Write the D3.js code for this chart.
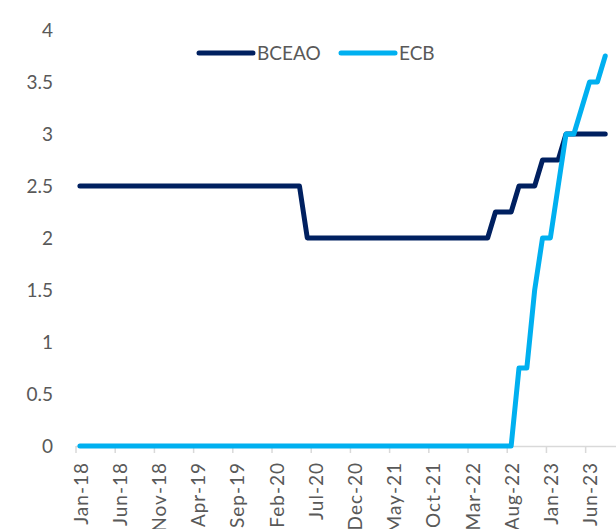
<!DOCTYPE html>
<html>
<head>
<meta charset="utf-8">
<script src="https://cdn.jsdelivr.net/npm/d3@7"></script>
<style>
  body { margin: 0; background: #fff; }
  svg { display: block; font-family: Lato, "Open Sans", sans-serif; }
  .axis text { fill: #595959; font-size: 19px; }
  .xlabel { letter-spacing: 1px; }
</style>
</head>
<body>
<svg id="chart"></svg>
<script>
const width = 616;
const height = 529;

// monthly categories, Jan-18 .. Sep-23 (the last one has no data)
const months = d3.timeMonth.range(new Date(2018, 0, 1), new Date(2023, 9, 1));
const fmt = d3.timeFormat("%b-%y");

const tickLabels = ["Jan-18", "Jun-18", "Nov-18", "Apr-19", "Sep-19", "Feb-20", "Jul-20",
                    "Dec-20", "May-21", "Oct-21", "Mar-22", "Aug-22", "Jan-23", "Jun-23"];

const yTicks = [0, 0.5, 1, 1.5, 2, 2.5, 3, 3.5, 4];

// policy rates, Jan-18 .. Aug-23
const bceao = [
  2.5, 2.5, 2.5, 2.5, 2.5, 2.5, 2.5, 2.5, 2.5, 2.5, 2.5, 2.5,   // 2018
  2.5, 2.5, 2.5, 2.5, 2.5, 2.5, 2.5, 2.5, 2.5, 2.5, 2.5, 2.5,   // 2019
  2.5, 2.5, 2.5, 2.5, 2.5, 2, 2, 2, 2, 2, 2, 2,                 // 2020
  2, 2, 2, 2, 2, 2, 2, 2, 2, 2, 2, 2,                           // 2021
  2, 2, 2, 2, 2, 2.25, 2.25, 2.25, 2.5, 2.5, 2.5, 2.75,         // 2022
  2.75, 2.75, 3, 3, 3, 3, 3, 3                                  // 2023
];
const ecb = [
  0, 0, 0, 0, 0, 0, 0, 0, 0, 0, 0, 0,
  0, 0, 0, 0, 0, 0, 0, 0, 0, 0, 0, 0,
  0, 0, 0, 0, 0, 0, 0, 0, 0, 0, 0, 0,
  0, 0, 0, 0, 0, 0, 0, 0, 0, 0, 0, 0,
  0, 0, 0, 0, 0, 0, 0, 0, 0.75, 0.75, 1.5, 2,
  2, 2.5, 3, 3, 3.25, 3.5, 3.5, 3.75
];

const series = [
  { name: "BCEAO", values: bceao, color: "#002060" },
  { name: "ECB", values: ecb, color: "#00B0F0" }
];

const svg = d3.select("#chart")
              .attr("width", width)
              .attr("height", height);

const x = d3.scaleBand()
            .domain(months.map(fmt))
            .range([76, 617]);

const y = d3.scaleLinear()
            .domain([0, 4])
            .range([446, 30]);

// x axis (category axis, ticks on boundaries)
const xAxis = svg.append("g").attr("class", "axis");
xAxis.append("line")
     .attr("x1", x.range()[0]).attr("x2", x.range()[1])
     .attr("y1", y(0) + 0.5).attr("y2", y(0) + 0.5)
     .attr("stroke", "#d9d9d9")
     .attr("stroke-width", 1.5);

xAxis.selectAll(".tick")
     .data(tickLabels)
     .enter()
     .append("line")
     .attr("class", "tick")
     .attr("x1", d => x(d)).attr("x2", d => x(d))
     .attr("y1", y(0)).attr("y2", y(0) + 7)
     .attr("stroke", "#d9d9d9")
     .attr("stroke-width", 1.5);

xAxis.selectAll(".xlabel")
     .data(tickLabels)
     .enter()
     .append("text")
     .attr("class", "xlabel")
     .attr("transform", d => `translate(${x(d) + x.bandwidth() / 2 + 1},${y(0) + 16}) rotate(-90)`)
     .attr("text-anchor", "end")
     .attr("dy", "0.35em")
     .text(d => d);

// y axis, labels only
const yAxis = svg.append("g")
                 .attr("class", "axis")
                 .attr("transform", "translate(61,0)")
                 .call(d3.axisLeft(y).tickValues(yTicks).tickSize(0).tickPadding(8).tickFormat(d3.format("")));
yAxis.select(".domain").remove();
yAxis.attr("font-family", null).attr("font-size", null);

// lines
const line = d3.line()
               .x((d, i) => x(fmt(months[i])) + x.bandwidth() / 2)
               .y(d => y(d));

svg.selectAll(".series")
   .data(series)
   .enter()
   .append("path")
   .attr("class", "series")
   .attr("d", d => line(d.values))
   .attr("fill", "none")
   .attr("stroke", d => d.color)
   .attr("stroke-width", 5)
   .attr("stroke-linecap", "round")
   .attr("stroke-linejoin", "round");

// legend
const legendPos = [199, 341];
const legend = svg.selectAll(".legend")
                  .data(series)
                  .enter()
                  .append("g")
                  .attr("class", "legend axis")
                  .attr("transform", (d, i) => `translate(${legendPos[i]},53)`);

legend.append("line")
      .attr("x1", 0).attr("x2", 54)
      .attr("stroke", d => d.color)
      .attr("stroke-width", 5)
      .attr("stroke-linecap", "round");

legend.append("text")
      .attr("x", 58)
      .attr("dy", "0.35em")
      .text(d => d.name);
</script>
</body>
</html>
